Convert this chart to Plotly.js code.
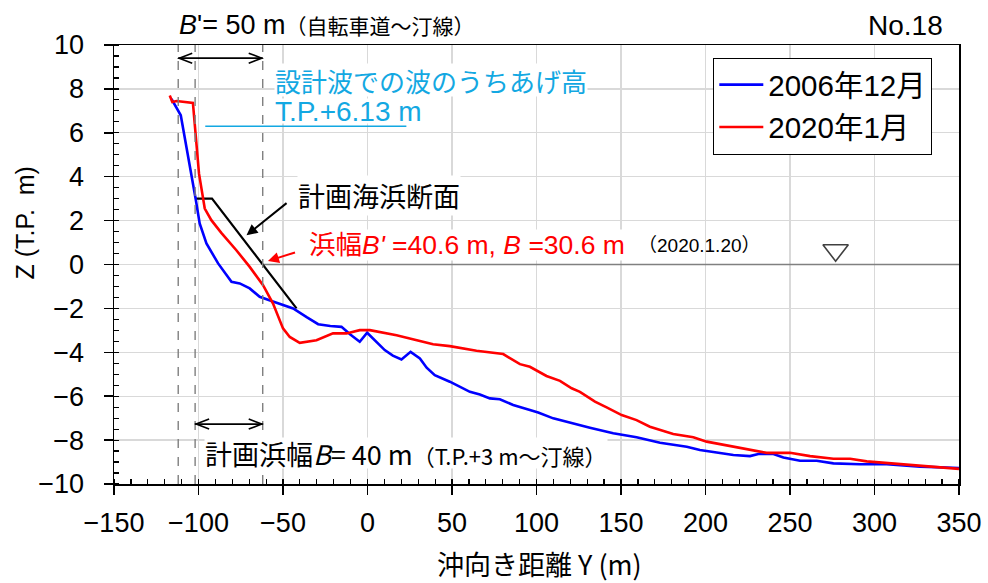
<!DOCTYPE html>
<html>
<head>
<meta charset="utf-8">
<script src="https://cdn.plot.ly/plotly-3.0.1.min.js"></script>
<style>html,body{margin:0;padding:0;background:#fff;}#chart{width:988px;height:583px;}</style>
</head>
<body>
<div id="chart"></div>
<script>
// ---- data ----
const series2006Name = "2006年12月";
const series2006X = [-116, -110.5, -101.7, -99.3, -95.3, -88.4, -80.5, -75.6, -69.7, -63.8, -56.8, -50, -44, -36, -29.2, -22, -15.4, -10, -4.6, -0.2, 5, 10.2, 15, 20.1, 25.5, 31, 35, 39.8, 48.7, 55, 60.6, 66.5, 72.4, 78.3, 86.2, 96.1, 101, 109.9, 119.7, 131.6, 145.4, 159.2, 173.1, 188.9, 196.7, 206.6, 216.5, 226.3, 231.3, 240.2, 246.1, 255.9, 265.8, 275.7, 291.4, 307.2, 327, 350];
const series2006Y = [7.55, 6.8, 3.0, 1.87, 0.96, 0.05, -0.79, -0.86, -1.09, -1.47, -1.66, -1.85, -2.0, -2.4, -2.72, -2.8, -2.84, -3.2, -3.52, -3.11, -3.5, -3.9, -4.15, -4.33, -3.98, -4.28, -4.7, -5.04, -5.34, -5.6, -5.8, -5.92, -6.1, -6.14, -6.4, -6.63, -6.74, -7.01, -7.21, -7.44, -7.69, -7.87, -8.12, -8.3, -8.45, -8.58, -8.68, -8.73, -8.63, -8.63, -8.79, -8.94, -8.94, -9.06, -9.1, -9.1, -9.21, -9.27];

const series2020Name = "2020年1月";
const series2020X = [-117, -115.5, -113, -103.3, -99.7, -96.3, -92.4, -89.5, -86.5, -77.6, -69.7, -61.8, -55.9, -50, -46, -40.1, -30.2, -20.4, -12.4, -4.6, 1.4, 17.2, 27, 38.8, 48.7, 64.5, 80.3, 90.2, 96.1, 105.9, 113.9, 120.8, 125.7, 134.6, 141.5, 150.4, 159.2, 167.1, 180.9, 192.8, 200.7, 216.5, 236.2, 250, 261.9, 275.7, 285.6, 295.4, 315.1, 338.8, 350];
const series2020Y = [7.7, 7.4, 7.45, 7.36, 4.14, 2.55, 2.02, 1.71, 1.44, 0.65, -0.11, -0.94, -1.78, -2.91, -3.3, -3.57, -3.45, -3.14, -3.14, -2.99, -2.99, -3.22, -3.42, -3.63, -3.72, -3.93, -4.08, -4.54, -4.66, -5.08, -5.3, -5.64, -5.8, -6.25, -6.51, -6.86, -7.09, -7.39, -7.72, -7.87, -8.07, -8.3, -8.58, -8.58, -8.73, -8.85, -8.85, -8.97, -9.09, -9.24, -9.31];

// planned beach section
const planX = [-102, -92, -42];
const planY = [3, 3, -2];
// still water line
const waterX = [-62, 350];
const waterY = [0, 0];
// design wave run-up line
const runupX = [-96, 23];
const runupY = [6.3, 6.3];
// water level symbol
const triX = [277];
const triY = [0.65];
// reference vertical lines (bicycle road edge, T.P.+3 m, shoreline)
const refLinesX = [-112, -102, -62];
// width arrows [from, to, level]
const arrowBprime = [-112, -62, 9.4];
const arrowB = [-102, -62, -7.27];

const xTickVals = [-150, -100, -50, 0, 50, 100, 150, 200, 250, 300, 350];
const yTickVals = [-10, -8, -6, -4, -2, 0, 2, 4, 6, 8, 10];

// ---- styling ----
const FONT = "Liberation Sans, Noto Sans CJK JP, sans-serif";
const CJK = "Noto Sans CJK JP, Liberation Sans, sans-serif";
const LIGHTBLUE = "#13A8E2";

const traces = [
  {x: waterX, y: waterY, mode: "lines", line: {color: "#808080", width: 1.6}, showlegend: false, hoverinfo: "skip"},
  {x: planX, y: planY, mode: "lines", line: {color: "#000000", width: 2.2}, showlegend: false, hoverinfo: "skip"},
  {x: series2006X, y: series2006Y, name: series2006Name, legendgroup: "a", mode: "lines", line: {color: "#0000FF", width: 2.6}},
  {x: series2020X, y: series2020Y, name: series2020Name, legendgroup: "b", mode: "lines", line: {color: "#FF0000", width: 2.6}},
  {x: triX, y: triY, mode: "markers", marker: {symbol: "triangle-down-open", size: 22, color: "#404040", line: {width: 1.6, color: "#404040"}}, showlegend: false, hoverinfo: "skip"},
  {x: runupX, y: runupY, mode: "lines", line: {color: LIGHTBLUE, width: 1.6}, showlegend: false, hoverinfo: "skip"}
];

const shapes = [];
refLinesX.forEach(v => shapes.push({type: "line", xref: "x", yref: "paper", x0: v, x1: v, y0: 0, y1: 1, line: {color: "#7f7f7f", width: 1.4, dash: "dash"}}));
[arrowBprime, arrowB].forEach(a => {
  shapes.push({type: "line", xref: "x", yref: "y", x0: a[0], x1: a[1], y0: a[2], y1: a[2], line: {color: "#000", width: 1.6}});
  shapes.push({type: "path", xref: "x", yref: "y", xsizemode: "pixel", ysizemode: "pixel", xanchor: a[0], yanchor: a[2], path: "M 14 5 L 1 0 L 14 -5", line: {color: "#000", width: 1.6}});
  shapes.push({type: "path", xref: "x", yref: "y", xsizemode: "pixel", ysizemode: "pixel", xanchor: a[1], yanchor: a[2], path: "M -14 5 L -1 0 L -14 -5", line: {color: "#000", width: 1.6}});
});

const annotations = [
  {xref: "paper", yref: "paper", x: -0.105, y: 0.594, text: "Z (T.P.  m)", textangle: -90, showarrow: false, font: {family: FONT, size: 25, color: "#000"}, xanchor: "center", yanchor: "middle"},
  {xref: "paper", yref: "paper", x: 0.503, y: -0.182, text: "沖向き距離 Y (m)", showarrow: false, font: {family: CJK, size: 27, color: "#000"}, xanchor: "center", yanchor: "middle"},
  {xref: "paper", yref: "paper", x: 0.984, y: 1.045, text: "No.18", showarrow: false, font: {family: FONT, size: 28, color: "#000"}, xanchor: "right", yanchor: "middle"},
  {xref: "x", yref: "paper", x: -112.5, y: 1.045, text: "<i>B</i>'= 50 m<span style='font-size:21px'>（自転車道～汀線）</span>", showarrow: false, font: {family: FONT, size: 27, color: "#000"}, xanchor: "left", yanchor: "middle"},
  {xref: "x", yref: "y", x: -55.3, y: 8.39, text: "設計波での波のうちあげ高", align: "left", showarrow: false, bgcolor: "#ffffff", height: 32, valign: "middle", font: {family: CJK, size: 26, color: LIGHTBLUE}, xanchor: "left", yanchor: "middle", borderpad: 0},
  {xref: "x", yref: "y", x: -55.3, y: 7.0, text: "T.P.+6.13 m", align: "left", showarrow: false, bgcolor: "#ffffff", height: 24, valign: "middle", font: {family: FONT, size: 28, color: LIGHTBLUE}, xanchor: "left", yanchor: "middle", borderpad: 0},
  {xref: "x", yref: "y", x: -42, y: 3.15, text: "計画海浜断面", showarrow: false, bgcolor: "#ffffff", font: {family: CJK, size: 27, color: "#000"}, xanchor: "left", yanchor: "middle", borderpad: 0},
  {xref: "x", yref: "y", x: -71.6, y: 1.33, ax: -47, ay: 2.85, axref: "x", ayref: "y", text: "", showarrow: true, arrowhead: 2, arrowsize: 1.1, arrowwidth: 2, arrowcolor: "#000"},
  {xref: "x", yref: "y", x: -35.5, y: 0.88, text: "浜幅<i>B'</i> =40.6 m, <i>B</i> =30.6 m", showarrow: false, bgcolor: "#ffffff", font: {family: FONT, size: 26.5, color: "#FF0000"}, xanchor: "left", yanchor: "middle", borderpad: 0},
  {xref: "x", yref: "y", x: 159, y: 0.88, text: "（2020.1.20）", showarrow: false, font: {family: FONT, size: 19, color: "#000"}, xanchor: "left", yanchor: "middle"},
  {xref: "x", yref: "y", x: -58.9, y: 0.16, ax: -42, ay: 0.57, axref: "x", ayref: "y", text: "", showarrow: true, arrowhead: 2, arrowsize: 1.1, arrowwidth: 2, arrowcolor: "#FF0000"},
  {xref: "x", yref: "y", x: -97, y: -8.6, text: "計画浜幅<i>B</i>= 40 m<span style='font-size:22px'>（T.P.+3 m～汀線）</span>", showarrow: false, bgcolor: "#ffffff", height: 30, valign: "middle", font: {family: CJK, size: 27, color: "#000"}, xanchor: "left", yanchor: "middle", borderpad: 0}
];

const layout = {
  width: 988, height: 583,
  margin: {l: 114, r: 29, t: 45, b: 99},
  paper_bgcolor: "#ffffff", plot_bgcolor: "#ffffff",
  font: {family: FONT, color: "#000"},
  showlegend: true,
  legend: {x: 0.709, y: 0.971, xanchor: "left", yanchor: "top", bgcolor: "#ffffff", bordercolor: "#000", borderwidth: 1.2, font: {family: FONT, size: 29.5, color: "#000"}, traceorder: "grouped", tracegroupgap: 1, itemwidth: 44},
  xaxis: {
    range: [-150, 350], tickmode: "array", tickvals: xTickVals,
    ticks: "outside", ticklen: 9, tickwidth: 1.5, tickcolor: "#000",
    minor: {dtick: 10, ticks: "inside", ticklen: 5, tickwidth: 1.2, tickcolor: "#000", showgrid: false},
    showgrid: true, gridcolor: "#d9d9d9", gridwidth: 1.3,
    showline: true, linecolor: "#000", linewidth: 1.5, mirror: true, zeroline: false,
    tickfont: {family: FONT, size: 27, color: "#000"}, ticklabelstandoff: 5
  },
  yaxis: {
    range: [-10, 10], tickmode: "array", tickvals: yTickVals,
    ticks: "outside", ticklen: 9, tickwidth: 1.5, tickcolor: "#000",
    minor: {dtick: 0.5, ticks: "inside", ticklen: 5, tickwidth: 1.2, tickcolor: "#000", showgrid: false},
    showgrid: true, gridcolor: "#d9d9d9", gridwidth: 1.3,
    showline: true, linecolor: "#000", linewidth: 1.5, mirror: true, zeroline: false,
    tickfont: {family: FONT, size: 27, color: "#000"}, ticklabelstandoff: 14
  },
  shapes: shapes,
  annotations: annotations
};

Plotly.newPlot("chart", traces, layout, {staticPlot: true, displayModeBar: false});
</script>
</body>
</html>
